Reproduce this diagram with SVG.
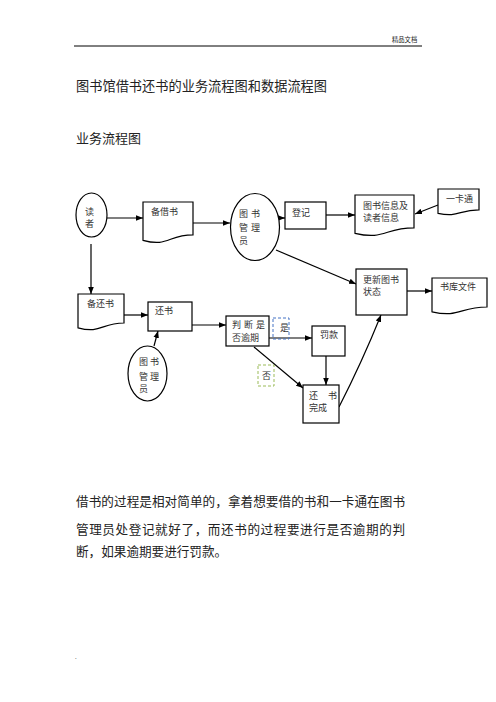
<svg xmlns="http://www.w3.org/2000/svg" width="496" height="702" viewBox="0 0 496 702">
<style>
.n{fill:#fff;stroke:#000;stroke-width:1.2}
.t{font-family:"Noto Sans CJK SC","Liberation Sans",sans-serif;font-size:9px;fill:#333}
.b{font-family:"Noto Sans CJK SC","Liberation Sans",sans-serif;fill:#222}
.c{fill:none;stroke:#000;stroke-width:1.2;marker-end:url(#ah)}
</style>
<defs>
<marker id="ah" viewBox="0 0 10 10" refX="10" refY="5" markerWidth="7" markerHeight="7" orient="auto" markerUnits="userSpaceOnUse">
<path d="M0,1 L10,5 L0,9 z" fill="#000"/>
</marker>
</defs>
<rect width="496" height="702" fill="#fff"/>
<g id="header">
<line x1="74" y1="46" x2="422" y2="46" stroke="#000" stroke-width="1"/>
<text class="b" x="392" y="41.5" font-size="6.3" fill="#555">精品文档</text>
</g>
<g id="titles">
<text class="b" x="76" y="91" font-size="13.2" textLength="251">图书馆借书还书的业务流程图和数据流程图</text>
<text class="b" x="76" y="143" font-size="13">业务流程图</text>
</g>
<g id="connectors">
<line class="c" x1="107" y1="218" x2="143" y2="218"/>
<line class="c" x1="193" y1="223" x2="230" y2="223"/>
<line class="c" x1="278" y1="218" x2="285" y2="218"/>
<line class="c" x1="326" y1="215" x2="355" y2="215"/>
<line class="c" x1="438" y1="205" x2="415" y2="214"/>
<line class="c" x1="276" y1="250" x2="356" y2="284"/>
<line class="c" x1="91" y1="244" x2="91" y2="294"/>
<line class="c" x1="124" y1="315" x2="148" y2="315"/>
<line class="c" x1="192" y1="325" x2="226" y2="325"/>
<line class="c" x1="154" y1="346" x2="158" y2="331"/>
<line class="c" x1="269" y1="338" x2="312" y2="338"/>
<line class="c" x1="254" y1="347" x2="303" y2="388"/>
<line class="c" x1="326" y1="356" x2="326" y2="385"/>
<path class="c" d="M339,407 Q362,362 381,315"/>
<line class="c" x1="407" y1="291" x2="432" y2="291"/>
</g>
<g id="reader">
<ellipse class="n" cx="91.5" cy="215" rx="15.5" ry="22"/>
<text class="t" x="85" y="215">读</text>
<text class="t" x="85" y="227">者</text>
</g>
<g id="borrow-doc">
<path class="n" d="M143,202 H193 V234.9 C168,234.9 168,247.4 143,240.3 Z"/>
<text class="t" x="151" y="215">备借书</text>
</g>
<g id="librarian1">
<ellipse class="n" cx="255" cy="227" rx="24.5" ry="33.5"/>
<text class="t" x="239" y="217">图</text><text class="t" x="251" y="217">书</text>
<text class="t" x="239" y="231">管</text><text class="t" x="251" y="231">理</text>
<text class="t" x="239" y="244">员</text>
</g>
<g id="register">
<rect class="n" x="285" y="202" width="41" height="27"/>
<text class="t" x="292" y="216">登记</text>
</g>
<g id="bookinfo-doc">
<path class="n" d="M355,195 H414 V227.9 C384.5,227.9 384.5,240.4 355,233.3 Z"/>
<text class="t" x="363" y="209">图书信息及</text>
<text class="t" x="363" y="221">读者信息</text>
</g>
<g id="card-doc">
<path class="n" d="M438,189 H479 V209.9 C458.5,209.9 458.5,217.8 438,213.3 Z"/>
<text class="t" x="446" y="202">一卡通</text>
</g>
<g id="update">
<rect class="n" x="356" y="269" width="51" height="46"/>
<text class="t" x="363" y="283">更新图书</text>
<text class="t" x="363" y="295">状态</text>
</g>
<g id="store-doc">
<path class="n" d="M432,278 H487 V307 C459.5,307 459.5,318 432,311.8 Z"/>
<text class="t" x="440" y="290">书库文件</text>
</g>
<g id="return-doc">
<path class="n" d="M78,294 H124 V323 C101,323 101,334 78,327.8 Z" stroke="#555" stroke-width="1.6"/>
<text class="t" x="87" y="307">备还书</text>
</g>
<g id="return">
<rect class="n" x="148" y="302" width="44" height="29"/>
<text class="t" x="155" y="314">还书</text>
</g>
<g id="librarian2">
<ellipse class="n" cx="147.5" cy="373.5" rx="19.5" ry="27.5"/>
<text class="t" x="139" y="365">图</text><text class="t" x="150" y="365">书</text>
<text class="t" x="139" y="380">管</text><text class="t" x="150" y="380">理</text>
<text class="t" x="139" y="392">员</text>
</g>
<g id="judge">
<rect class="n" x="226" y="316" width="43" height="30"/>
<text class="t" x="232" y="328" textLength="33">判断是</text>
<text class="t" x="232" y="341" textLength="27">否逾期</text>
</g>
<g id="yes">
<rect x="273" y="318" width="16" height="21" fill="none" stroke="#4472C4" stroke-width="1" stroke-dasharray="3,2"/>
<text class="t" x="280" y="331">是</text>
</g>
<g id="fine">
<rect class="n" x="312" y="326" width="33" height="30"/>
<text class="t" x="320" y="338">罚款</text>
</g>
<g id="no">
<rect x="258" y="365" width="16" height="21" fill="none" stroke="#9BBB59" stroke-width="1" stroke-dasharray="3,2"/>
<text class="t" x="262" y="379">否</text>
</g>
<g id="done">
<rect class="n" x="303" y="385" width="36" height="38"/>
<text class="t" x="309" y="399">还</text><text class="t" x="328" y="399">书</text>
<text class="t" x="309" y="411">完成</text>
</g>
<g id="body">
<text class="b" x="76" y="506" font-size="12.6" textLength="329">借书的过程是相对简单的，拿着想要借的书和一卡通在图书</text>
<text class="b" x="76" y="533.5" font-size="12.6" textLength="329">管理员处登记就好了，而还书的过程要进行是否逾期的判</text>
<text class="b" x="76" y="555.5" font-size="12.6">断，如果逾期要进行罚款。</text>
<text class="b" x="75" y="659" font-size="6" fill="#666">.</text>
</g>
</svg>
